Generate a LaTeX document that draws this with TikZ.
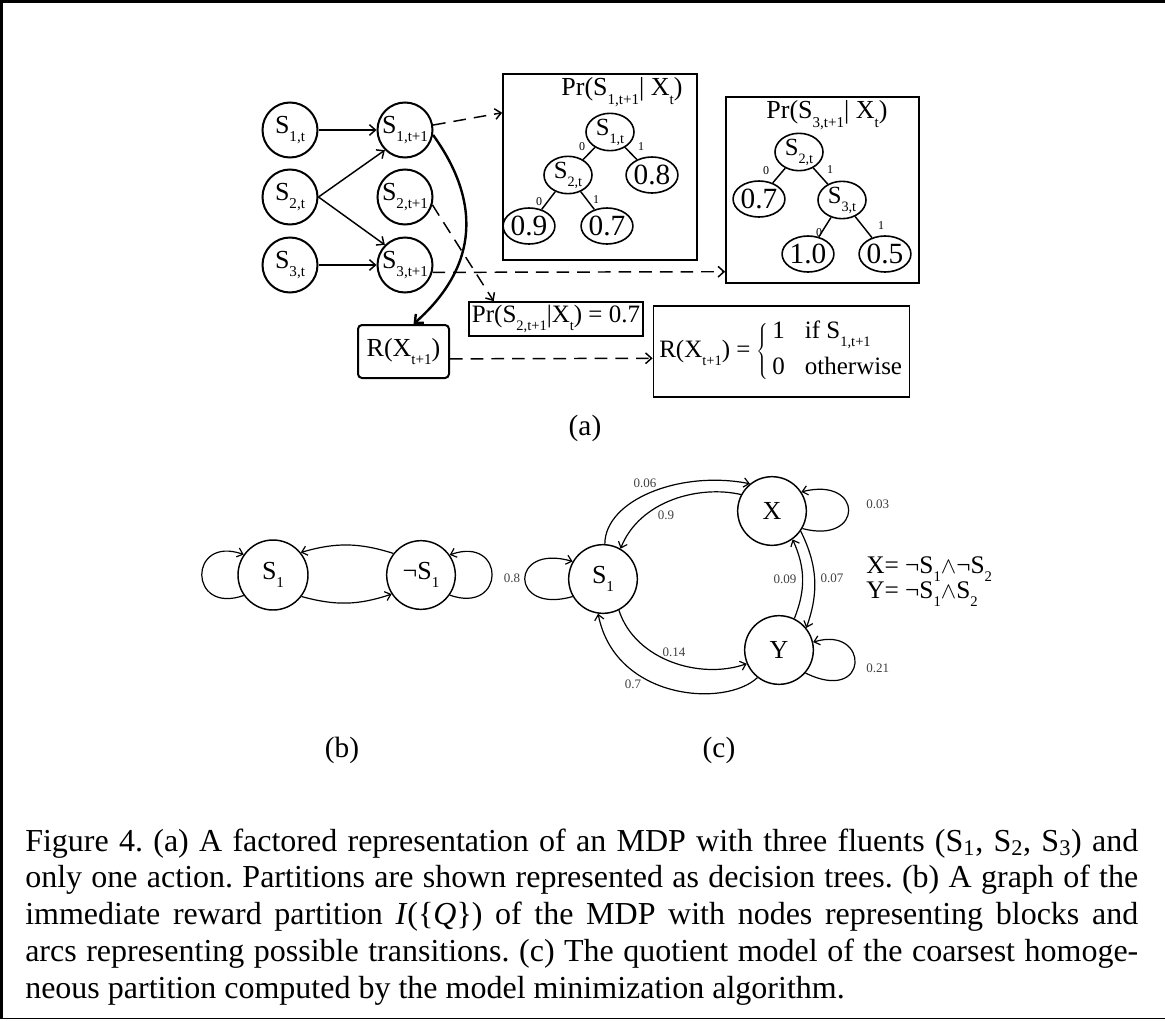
\documentclass[tikz,border=0pt]{standalone}
\usepackage{fontspec}
\setmainfont{Liberation Serif}
\usepackage{graphicx}
\usetikzlibrary{arrows.meta,shapes.geometric}
\newcommand{\lsub}[1]{\raisebox{-0.32em}{\scalebox{0.58}{#1}}}
\newcommand{\fsz}[1]{\fontsize{#1}{#1}\selectfont}
\frenchspacing
\begin{document}
\begin{tikzpicture}[x=0.75pt,y=-0.75pt,
  dbn/.style={circle,draw,line width=1.5pt,minimum size=41.25pt,inner sep=0pt,font=\fsz{19.5pt}},
  tnode/.style={ellipse,draw,line width=1.2pt,minimum width=36pt,minimum height=26pt,inner sep=0pt,font=\fsz{18.5pt}},
  leaf/.style={ellipse,draw,line width=1.2pt,minimum width=36pt,minimum height=27pt,inner sep=0pt,font=\fsz{22pt}},
  elab/.style={font=\fsz{9pt},inner sep=0pt},
  tbox/.style={draw,line width=1.3pt,inner sep=0pt},
  ttl/.style={font=\fsz{19.5pt},inner sep=0pt},
  arr/.style={line width=1.1pt,-{Straight Barb[length=4.5pt,width=8pt]}},
  dsh/.style={line width=1.1pt,dash pattern=on 9.5pt off 6pt,-{Straight Barb[length=4.5pt,width=8pt]}},
  tline/.style={line width=1.1pt},
  gnode/.style={circle,draw,line width=1.1pt,minimum size=51.5pt,inner sep=0pt,font=\fsz{19.5pt}},
  garr/.style={line width=0.9pt,-{Straight Barb[length=4pt,width=7pt]}},
  glab/.style={font=\fsz{9.75pt},inner sep=0pt,text=black!75},
  sublab/.style={font=\fsz{22pt},inner sep=0pt},
  capline/.style={anchor=base west,inner sep=0pt,font=\fontsize{24pt}{27.6pt}\selectfont}
]
\useasboundingbox (0,0) rectangle (1165,1021);
% frame
\draw[line width=2.25pt] (0,1.5) -- (1165,1.5);
\draw[line width=2.25pt] (1.5,0) -- (1.5,1019);
\draw[line width=1.1pt] (0,1018.5) -- (1165,1018.5);

% ---------- (a) DBN ----------
\node[dbn] (S1t) at (290,130) {S\lsub{1,t}};
\node[dbn] (S2t) at (290,197) {S\lsub{2,t}};
\node[dbn] (S3t) at (290,265) {S\lsub{3,t}};
\node[dbn] (S1n) at (405,130) {S\lsub{1,t+1}};
\node[dbn] (S2n) at (405,197) {S\lsub{2,t+1}};
\node[dbn] (S3n) at (405,265) {S\lsub{3,t+1}};
\node[draw,line width=1.5pt,rounded corners=3pt,minimum width=68.25pt,minimum height=39.75pt,inner sep=0pt,font=\fsz{19.5pt}] (R) at (403.5,351.5) {R(X\lsub{t+1})};

\draw[arr] (S1t) -- (S1n);
\draw[arr] (S2t.east) -- (S1n.225);
\draw[arr] (S2t.east) -- (S3n.135);
\draw[arr] (S3t) -- (S3n);
\draw[line width=1.8pt,-{Straight Barb[length=5pt,width=9pt]}] (S1n.-10) .. controls (480,200) and (480,265) .. (R.70);

% box 1
\node[tbox,minimum width=145.5pt,minimum height=139.5pt] (box1) at (600,167) {};
\node[ttl] (t1) at (622,92) {Pr(S\lsub{1,t+1}| X\lsub{t})};
\node[tnode] (a1) at (610,132) {S\lsub{1,t}};
\node[tnode] (a2) at (568,175) {S\lsub{2,t}};
\node[leaf] (a3) at (652,175) {0.8};
\node[leaf] (a4) at (529,226) {0.9};
\node[leaf] (a5) at (607,226) {0.7};
\draw[tline] (a1) -- (a2);
\draw[tline] (a1) -- (a3);
\draw[tline] (a2) -- (a4);
\draw[tline] (a2) -- (a5);
\node[elab] (l1) at (582,147) {0};
\node[elab] (l2) at (641,147) {1};
\node[elab] (l3) at (539,202) {0};
\node[elab] (l4) at (596,200) {1};

% box 2
\node[tbox,minimum width=144.75pt,minimum height=139.5pt] (box2) at (822.5,190) {};
\node[ttl] (t2) at (827,115) {Pr(S\lsub{3,t+1}| X\lsub{t})};
\node[tnode] (b1) at (799,152) {S\lsub{2,t}};
\node[leaf] (b2) at (759,199) {0.7};
\node[tnode] (b3) at (842,200) {S\lsub{3,t}};
\node[leaf] (b4) at (808,254) {1.0};
\node[leaf] (b5) at (885,254) {0.5};
\draw[tline] (b1) -- (b2);
\draw[tline] (b1) -- (b3);
\draw[tline] (b3) -- (b4);
\draw[tline] (b3) -- (b5);
\node[elab] (m1) at (766,171) {0};
\node[elab] (m2) at (830,170) {1};
\node[elab] (m3) at (819,233) {0};
\node[elab] (m4) at (881,226) {1};

% Pr(S2) box
\node[tbox,minimum width=130.5pt,minimum height=25.5pt,font=\fsz{18.75pt}] (pr2) at (556,319) {Pr(S\lsub{2,t+1}|X\lsub{t}) = 0.7};

% reward box
\node[tbox,minimum width=192pt,minimum height=68.25pt,font=\fsz{18.75pt}] (rbig) at (781.5,351.5)
 {R(X\lsub{t+1}) = $\left\{\,\begin{tabular}{@{}l@{\hspace{15pt}}l@{}}1 & if S\lsub{1,t+1}\\[8pt] 0 & otherwise\end{tabular}\right.$};

% dashed arrows
\draw[dsh] (S1n.10) -- (box1.151);
\draw[dsh] (S2n.-16) -- (pr2.164);
\draw[dsh] (S3n.-15) -- (box2.220);
\draw[dsh] (R.-9) -- (rbig.183.4);

\node[sublab] (la) at (585,428) {(a)};

% ---------- (b) ----------
\node[gnode,minimum size=52.5pt] (bS) at (273,575) {S\lsub{1}};
\node[gnode] (bN) at (421,575) {¬S\lsub{1}};
\draw[garr] (bS.215) .. controls (188,615) and (188,535) .. (bS.145);
\draw[garr] (bN.-35) .. controls (506,615) and (506,535) .. (bN.35);
\draw[garr] (bN.142) to[bend right=17] (bS.39);
\draw[garr] (bS.-37) to[bend right=17] (bN.213);
\node[sublab] (lb) at (342,750) {(b)};

% ---------- (c) ----------
\node[gnode] (cS) at (603,579) {S\lsub{1}};
\node[gnode] (cX) at (772,511) {X};
\node[gnode] (cY) at (779,650) {Y};
\draw[garr] (cS.210) .. controls (509,615) and (509,543) .. (cS.150);
\draw[garr] (cX.-30) .. controls (864,545) and (864,476) .. (cX.33);
\draw[garr] (cY.-41) .. controls (870,705) and (870,625) .. (cY.13);
\draw[garr] (cS.87) .. controls (605,500) and (680,470) .. (cX.129);
\draw[garr] (cX.152) .. controls (700,485) and (640,500) .. (cS.60);
\draw[garr] (cX.-35) to[bend left=23] (cY.39);
\draw[garr] (cY.64) to[bend right=23] (cX.-54);
\draw[garr] (cS.-63) .. controls (635,660) and (700,680) .. (cY.203);
\draw[garr] (cY.232) .. controls (725,708) and (615,700) .. (cS.262);
\node[glab] (g1) at (512,578) {0.8};
\node[glab,anchor=west] (g2) at (866,504) {0.03};
\node[glab,anchor=west] (g3) at (866,668) {0.21};
\node[glab] (g4) at (645,483) {0.06};
\node[glab] (g5) at (666,515) {0.9};
\node[glab] (g6) at (785,579) {0.09};
\node[glab] (g7) at (832,578) {0.07};
\node[glab] (g8) at (674,652) {0.14};
\node[glab] (g9) at (633,684) {0.7};
\node[anchor=west,inner sep=0pt,font=\fsz{19pt}] (eqx) at (866,569) {X= ¬S\lsub{1}$\wedge$¬S\lsub{2}};
\node[anchor=west,inner sep=0pt,font=\fsz{19pt}] (eqy) at (866,594) {Y= ¬S\lsub{1}$\wedge$S\lsub{2}};
\node[sublab] (lc) at (719,750) {(c)};

% ---------- caption ----------
\node[capline] (c1) at (25,851) {\makebox[834.75pt][s]{Figure 4. (a) A factored representation of an MDP with three fluents (S\textsubscript{1}, S\textsubscript{2}, S\textsubscript{3}) and}};
\node[capline] (c2) at (25,887.8) {\makebox[834.75pt][s]{only one action. Partitions are shown represented as decision trees. (b) A graph of the}};
\node[capline] (c3) at (25,924.6) {\makebox[834.75pt][s]{immediate reward partition \textit{I}(\{\textit{Q}\}) of the MDP with nodes representing blocks and}};
\node[capline] (c4) at (25,961.4) {\makebox[834.75pt][s]{arcs representing possible transitions. (c) The quotient model of the coarsest homoge-}};
\node[capline] (c5) at (25,998.2) {neous partition computed by the model minimization algorithm.};
\end{tikzpicture}
\end{document}
